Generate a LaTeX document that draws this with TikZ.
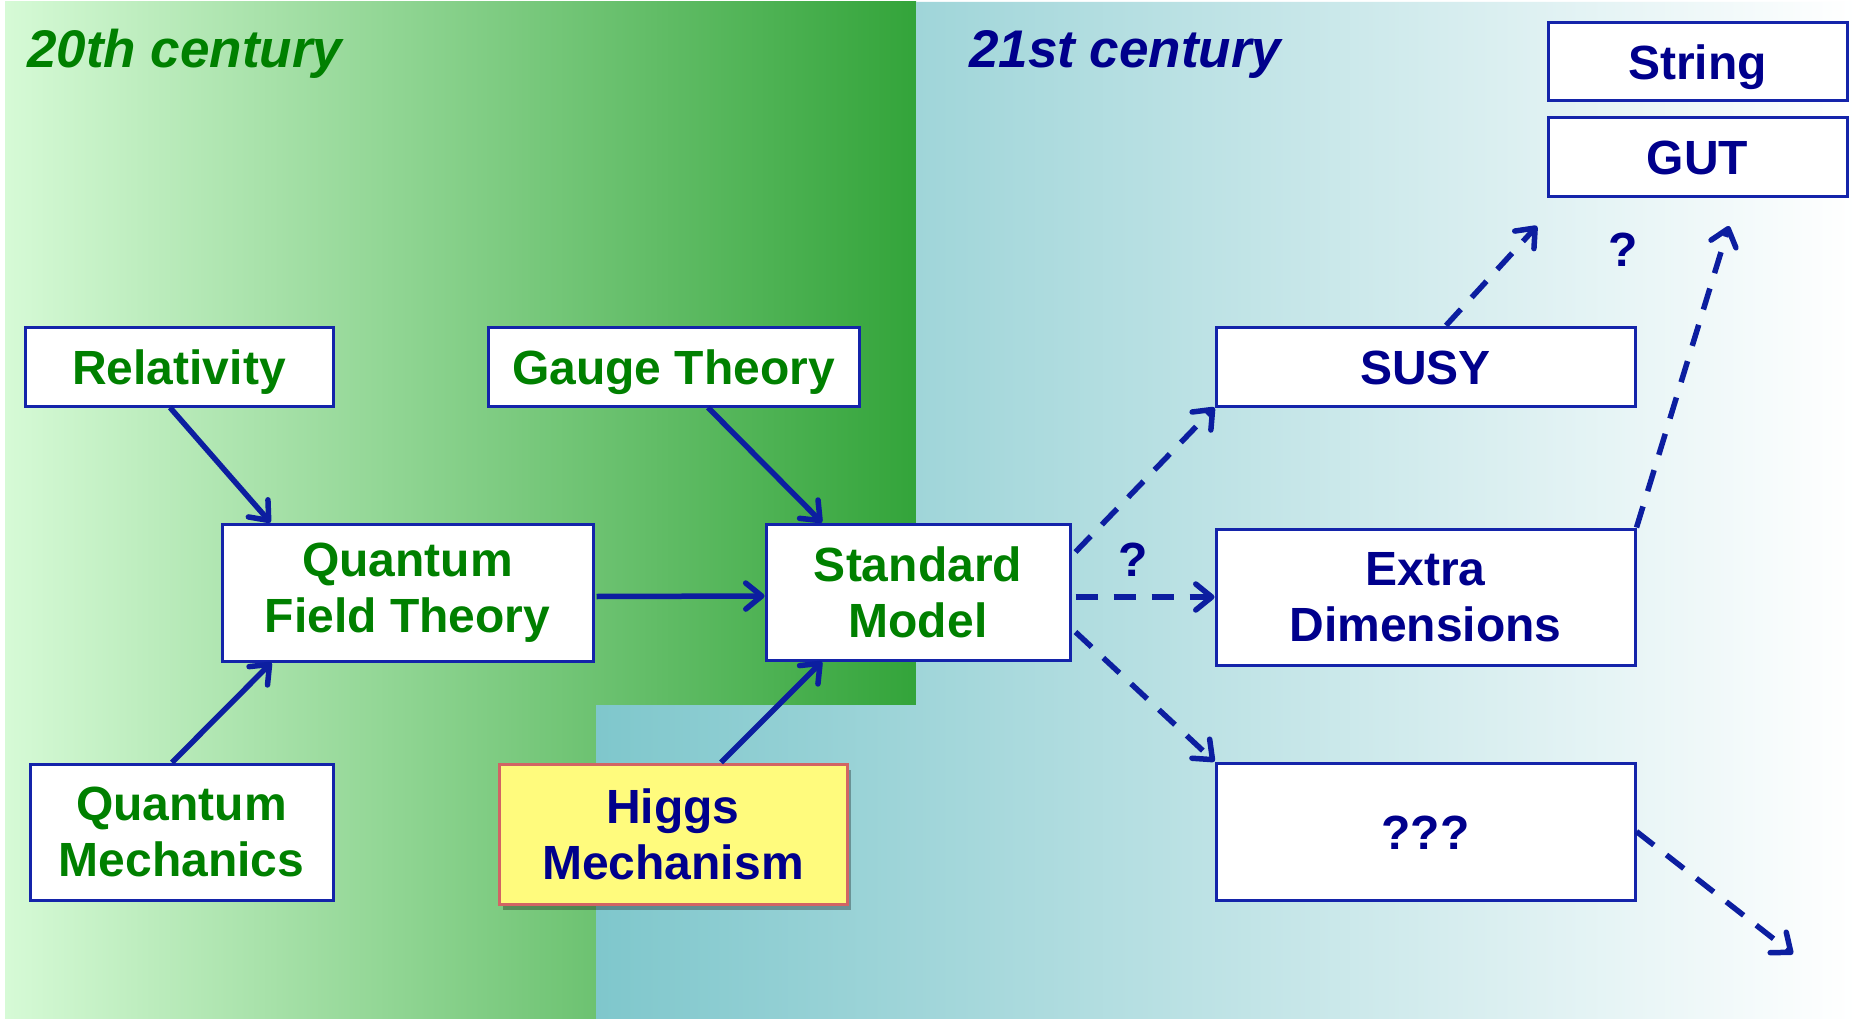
\documentclass[tikz,border=0pt]{standalone}
\usepackage{fontspec}
\setmainfont{Liberation Sans}
\usetikzlibrary{arrows.meta,calc,shadows}
\definecolor{gtext}{RGB}{0,128,0}
\definecolor{btext}{RGB}{0,0,140}
\definecolor{arrowc}{RGB}{12,30,160}
\definecolor{boxline}{RGB}{20,36,170}
\definecolor{gA}{RGB}{214,250,214}
\definecolor{gB}{RGB}{156,218,156}
\definecolor{gC}{RGB}{51,164,58}
\definecolor{tA}{RGB}{127,199,204}
\definecolor{tB}{RGB}{193,226,229}
\definecolor{tC}{RGB}{255,255,255}
\definecolor{hy}{RGB}{255,251,125}
\definecolor{hb}{RGB}{210,100,100}
\tikzset{
  box/.style={draw=boxline, line width=3pt, fill=white, inner sep=0pt, align=center,
    font=\fontsize{48}{56}\selectfont\bfseries},
  gbox/.style={box, text=gtext},
  bbox/.style={box, text=btext},
  one/.style={text height=35pt, text depth=0pt},
  arr/.style={draw=arrowc, line width=5.5pt, -{Straight Barb[length=16pt,width=26pt,round]}},
  darr/.style={arr, dash pattern=on 22pt off 16pt},
  ttl/.style={anchor=base west, inner sep=0pt, font=\fontsize{53}{60}\selectfont\bfseries\itshape},
  qmark/.style={text=btext, inner sep=0pt, font=\fontsize{48}{56}\selectfont\bfseries}
}
\begin{document}
\begin{tikzpicture}[x=1pt,y=-1pt]
\useasboundingbox (0,0) rectangle (1856,1019);
\fill[white] (0,0) rectangle (1856,1019);
% backgrounds
\shade[left color=gA, middle color=gB, right color=gC] (5,2) rectangle (916,1019);
\shade[left color=tA, middle color=tB, right color=tC]
  (916,2) -- (1856,2) -- (1856,1019) -- (596,1019) -- (596,705) -- (916,705) -- cycle;
% titles
\node[ttl, text=gtext] (t20) at (27,68) {20th century};
\node[ttl, text=btext] (t21) at (969,68) {21st century};
% boxes
\node[gbox, one, minimum width=308pt, minimum height=79pt] (rel) at (179,366.5) {Relativity};
\node[gbox, one, minimum width=371pt, minimum height=79pt] (gauge) at (673.5,366.5) {Gauge Theory};
\node[gbox, minimum width=371pt, minimum height=137pt] (qft) at (407.5,592.5) {Quantum\\Field Theory};
\node[gbox, minimum width=304pt, minimum height=136pt] (sm) at (918,592) {Standard\\Model};
\node[gbox, minimum width=303pt, minimum height=136pt] (qm) at (181.5,832) {Quantum\\Mechanics};
\node[box, text=btext, fill=hy, draw=hb, minimum width=348pt, minimum height=140pt,
  drop shadow={shadow xshift=4pt, shadow yshift=-6pt, fill=black, opacity=0.3}] (higgs) at (673,834) {Higgs\\Mechanism};
\node[bbox, one, minimum width=419pt, minimum height=79pt] (susy) at (1425.5,366.5) {SUSY};
\node[bbox, minimum width=419pt, minimum height=136pt] (extra) at (1425.5,597) {Extra\\Dimensions};
\node[bbox, one, minimum width=419pt, minimum height=137pt] (unk) at (1425.5,831.5) {???};
\node[bbox, one, minimum width=299pt, minimum height=78pt] (string) at (1697.5,62) {String};
\node[bbox, one, minimum width=299pt, minimum height=79pt] (gut) at (1697.5,157.5) {GUT};
% question marks
\node[qmark] (q1) at (1133,560) {?};
\node[qmark] (q2) at (1623,250) {?};
% free ends
\coordinate (up1) at (1537,226);
\coordinate (up2) at (1729,226);
\coordinate (down1) at (1793,954);
% solid arrows
\draw[arr] ([xshift=-9pt]rel.south) -- ([xshift=-137pt]qft.north);
\draw[arr] ([xshift=-9.5pt]qm.north) -- ([xshift=-136pt]qft.south);
\draw[arr] ([xshift=34.5pt]gauge.south) -- ([xshift=-96pt]sm.north);
\draw[arr] ([xshift=48pt]higgs.north) -- ([xshift=-96pt]sm.south);
\draw[arr] ([xshift=2pt,yshift=-4pt]qft.east) -- ([yshift=-4pt]sm.west);
% dashed arrows
\draw[darr] ([xshift=4pt,yshift=40pt]sm.east) -- (susy.south west);
\draw[darr] ([xshift=4pt,yshift=-5pt]sm.east) -- (extra.west);
\draw[darr] ([xshift=4pt,yshift=-40pt]sm.east) -- (unk.north west);
\draw[darr] ([xshift=20.5pt]susy.north) -- (up1);
\draw[darr] (extra.north east) -- (up2);
\draw[darr] (unk.east) -- (down1);
\end{tikzpicture}
\end{document}
